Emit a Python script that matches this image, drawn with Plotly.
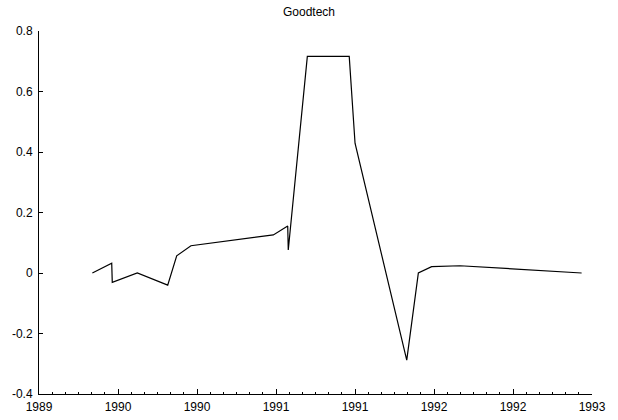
import numpy as np
import plotly.graph_objects as go

# Data (decimal years, values)
years = [1989.386, 1989.526, 1989.530, 1989.711, 1989.931, 1989.996, 1990.099,
         1990.695, 1990.799, 1990.803, 1990.941, 1991.244, 1991.286, 1991.660,
         1991.744, 1991.840, 1992.045, 1992.925]
values = [0.0, 0.032, -0.031, 0.0, -0.040, 0.057, 0.090,
          0.126, 0.155, 0.076, 0.716, 0.716, 0.429, -0.288,
          0.0, 0.021, 0.024, 0.0]

x_tick_labels = ["1989", "1990", "1990", "1991", "1991", "1992", "1992", "1993"]
y_tick_vals = [-0.4, -0.2, 0, 0.2, 0.4, 0.6, 0.8]
y_tick_labels = ["-0.4", "-0.2", "0", "0.2", "0.4", "0.6", "0.8"]

x_start, x_end = 1989.0, 1993.0
x_tick_vals = list(np.linspace(x_start, x_end, len(x_tick_labels)))
minor_vals = list(np.linspace(x_start, x_end, (len(x_tick_labels) - 1) * 6 + 1))

font = dict(family="Liberation Sans, Arial, sans-serif", size=12, color="#000000")

fig = go.Figure()
fig.add_trace(go.Scatter(x=years, y=values, mode="lines",
                         line=dict(color="#000000", width=1.2),
                         showlegend=False, hoverinfo="skip"))

fig.update_layout(
    width=618, height=420,
    margin=dict(l=39, r=26, t=31, b=26, autoexpand=False),
    paper_bgcolor="white", plot_bgcolor="white",
    font=font,
    title=dict(text="Goodtech", x=0.5, xanchor="center", y=0.972, yanchor="middle",
               font=dict(family=font["family"], size=12, color="#000000")),
    showlegend=False,
)
fig.update_xaxes(
    range=[x_start, x_end], showgrid=False, zeroline=False,
    showline=True, linecolor="#000000", linewidth=1,
    tickmode="array", tickvals=x_tick_vals, ticktext=x_tick_labels,
    ticks="inside", ticklen=5, tickcolor="#000000", tickwidth=1,
    minor=dict(tickmode="array", tickvals=minor_vals, ticks="inside", ticklen=2,
               tickcolor="#000000", tickwidth=1, showgrid=False),
    tickfont=font, ticklabelstandoff=2,
)
fig.update_yaxes(
    range=[-0.4, 0.8], showgrid=False, zeroline=False,
    showline=True, linecolor="#000000", linewidth=1,
    tickmode="array", tickvals=y_tick_vals, ticktext=y_tick_labels,
    ticks="inside", ticklen=4, tickcolor="#000000", tickwidth=1,
    tickfont=font, ticklabelstandoff=3,
)

fig.write_html("out.html",
               config={"displayModeBar": False, "staticPlot": True},
               post_script="document.body.style.margin='0';document.body.style.padding='0';")
